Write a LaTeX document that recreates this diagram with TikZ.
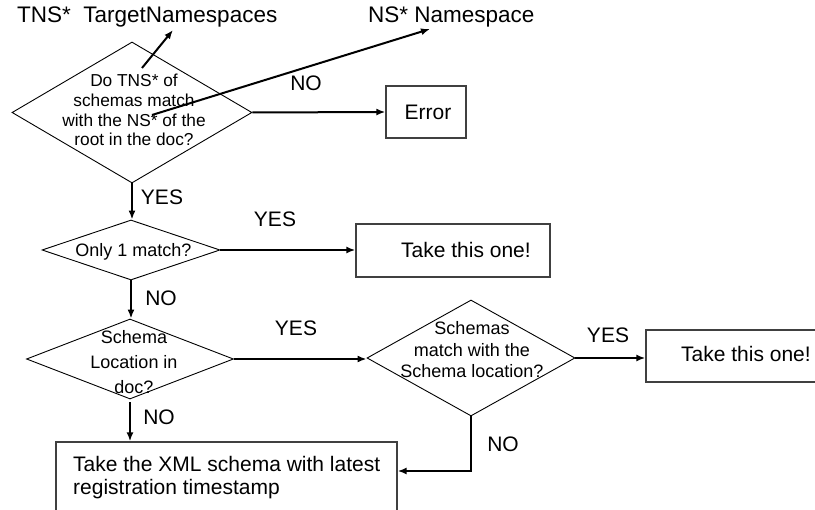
\documentclass[tikz,border=0pt]{standalone}
\usepackage{fontspec}
\setmainfont{Liberation Sans}
\usetikzlibrary{shapes.geometric,arrows.meta}
\tikzset{
  dia/.style={draw=black, line width=0.9pt, shape=diamond, inner sep=0pt, minimum width=#1},
  boxn/.style={draw=black!75, line width=1.3pt, rectangle, inner sep=0pt},
  arr/.style={line width=2pt, -{Latex[length=9pt,width=7pt]}},
  lbl/.style={font=\fontsize{21}{23}\selectfont, inner sep=0pt},
  toplbl/.style={font=\fontsize{22.5}{25}\selectfont, inner sep=0pt},
  dtxt/.style={font=\fontsize{18}{20}\selectfont, inner sep=0pt, align=center},
  btxt/.style={font=\fontsize{21}{23}\selectfont, inner sep=0pt}
}
\begin{document}
\begin{tikzpicture}[x=1pt,y=-1pt]
\useasboundingbox (0,0) rectangle (815,510);
\clip (0,0) rectangle (815,510);
\fill[white] (0,0) rectangle (815,510);

% top legend
\node[toplbl, anchor=base west] (tnslbl) at (17,23) {TNS*\ \ TargetNamespaces};
\node[toplbl, anchor=base west] (nslbl) at (368,23) {NS* Namespace};

% diamonds
\node[dia=240pt, minimum height=141pt] (d1) at (132,112.5) {};
\node[dtxt, font=\fontsize{17.3}{19.7}\selectfont] (d1t) at (134,110) {Do TNS* of\\schemas match\\with the NS* of the\\root in the doc?};

\node[dia=178pt, minimum height=60pt] (d2) at (131,250) {};
\node[dtxt] (d2t) at (133.5,252) {Only 1 match?};

\node[dia=207pt, minimum height=80pt] (d3) at (130,359) {};
\node[dtxt, font=\fontsize{18}{25}\selectfont] (d3t) at (134,362) {Schema\\Location in\\doc?};

\node[dia=208pt, minimum height=116pt] (d4) at (471,358) {};
\node[dtxt, font=\fontsize{18}{21.5}\selectfont] (d4t) at (472,350) {Schemas\\match with the\\Schema location?};

% boxes
\node[boxn, minimum width=80pt, minimum height=52pt] (err) at (426,112) {};
\node[btxt] (errt) at (428,112) {Error};

\node[boxn, minimum width=194pt, minimum height=53pt] (b2) at (453,250.5) {};
\node[btxt] (b2t) at (466,250) {Take this one!};

\node[boxn, minimum width=184pt, minimum height=52pt] (b3) at (738,356) {};
\node[btxt] (b3t) at (746,354) {Take this one!};

\node[boxn, minimum width=341pt, minimum height=88pt] (b4) at (226.5,486) {};
\node[btxt, align=left, anchor=west, font=\fontsize{21}{23}\selectfont] (b4t) at (73,478) {Take the XML schema with latest\\registration timestamp};

% pointer arrows
\coordinate (p1s) at (142,68);
\coordinate (p1e) at (173,30);
\coordinate (p2s) at (152,115);
\coordinate (p2e) at (430,29);
\draw[arr] (p1s) -- (p1e);
\draw[arr] (p2s) -- (p2e);

% flow arrows
\draw[arr] (d1.east) -- (err.west);
\draw[arr] (d1.south) -- (d1.south |- d2.north);
\draw[arr] (d2.east) -- (d2.east -| b2.west);
\draw[arr] (d2.south) -- (d2.south |- d3.north);
\draw[arr] (d3.east) -- (d3.east -| d4.west);
\draw[arr] (d4.east) -- (d4.east -| b3.west);
\draw[arr] ([yshift=-3pt]d3.south) -- (d3.south |- b4.north);
\coordinate (corner) at (471,471);
\draw[arr] (d4.south) -- (corner) -- (corner -| b4.east);

% labels
\node[lbl] (l1) at (306,83) {NO};
\node[lbl] (l2) at (162,197) {YES};
\node[lbl] (l3) at (275,219) {YES};
\node[lbl] (l4) at (161,298) {NO};
\node[lbl] (l5) at (296,328) {YES};
\node[lbl] (l6) at (608,335) {YES};
\node[lbl] (l7) at (159,417) {NO};
\node[lbl] (l8) at (503,444) {NO};
\end{tikzpicture}
\end{document}
